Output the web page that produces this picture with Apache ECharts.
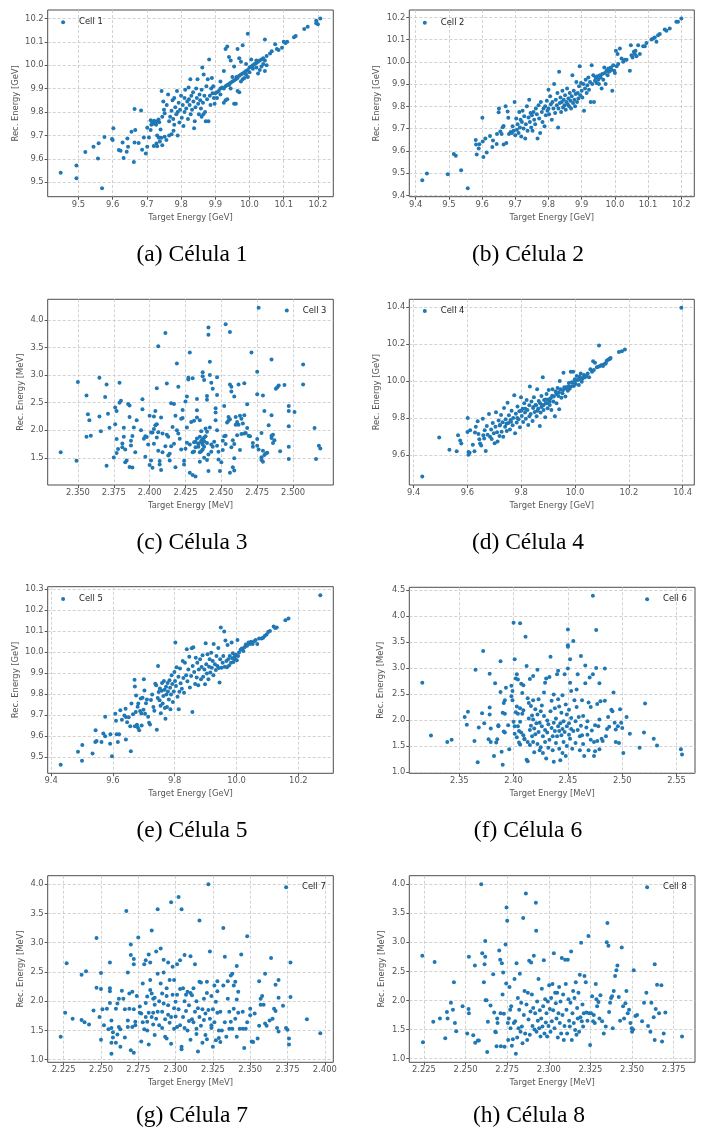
<!DOCTYPE html>
<html>
<head>
<meta charset="utf-8">
<title>Cell energy scatter</title>
<script src="https://cdn.jsdelivr.net/npm/echarts@6.0.0/dist/echarts.min.js"></script>
<style>
  html, body { margin: 0; padding: 0; background: #fff; }
  #main { width: 710px; height: 1133px; }
</style>
</head>
<body>
<div id="main"></div>
<script>
// [target, reconstructed] per cell
var cell1 = [[9.448,9.540],[9.494,9.571],[9.494,9.517],[9.569,9.474],[9.52,9.629],[9.544,9.651],[9.559,9.666],[9.557,9.601],[9.576,9.693],[9.598,9.684],[9.6,9.68],[9.602,9.73],
  [9.618,9.637],[9.623,9.634],[9.629,9.67],[9.632,9.603],[9.643,9.687],[9.641,9.63],[9.645,9.651],[9.655,9.716],[9.664,9.67],[9.662,9.586],[9.666,9.723],[9.664,9.813],[9.676,9.667],[9.683,9.806],[9.686,9.639],[9.691,9.691],[9.697,9.623],[9.701,9.733],[9.701,9.651],[9.706,9.691],[9.711,9.723],
  [9.711,9.765],[9.715,9.757],[9.718,9.75],[9.721,9.763],[9.724,9.752],[9.727,9.745],[9.73,9.76],[9.713,9.745],[9.734,9.768],[9.736,9.756],
  [9.74,9.725],[9.745,9.78],[9.742,9.69],[9.735,9.69],[9.73,9.70],[9.728,9.665],[9.72,9.655],[9.73,9.653],[9.745,9.658],[9.738,9.674],[9.752,9.694],[9.757,9.68],[9.765,9.7],[9.772,9.705],[9.778,9.72],[9.79,9.70],
  [9.743,9.89],[9.748,9.845],[9.75,9.81],[9.752,9.795],[9.758,9.83],[9.762,9.875],[9.765,9.76],[9.768,9.78],[9.772,9.805],[9.775,9.85],[9.777,9.77],[9.78,9.745],[9.78,9.86],[9.783,9.82],[9.786,9.79],[9.788,9.89],[9.79,9.8],[9.793,9.84],[9.795,9.755],[9.797,9.81],[9.8,9.87],[9.802,9.775],[9.805,9.83],[9.807,9.74],[9.81,9.86],[9.81,9.8],[9.812,9.895],[9.815,9.815],[9.818,9.845],[9.82,9.77],[9.822,9.905],[9.823,9.855],[9.825,9.83],[9.827,9.94],[9.828,9.79],[9.83,9.87],[9.832,9.81],[9.835,9.885],[9.836,9.845],[9.838,9.73],[9.84,9.76],[9.842,9.82],[9.844,9.9],[9.846,9.86],[9.848,9.94],[9.85,9.835],[9.852,9.79],[9.854,9.875],[9.856,9.85],[9.858,9.815],[9.86,9.895],[9.862,9.99],[9.864,9.84],[9.866,9.96],[9.868,9.87],[9.87,9.8],[9.872,9.76],[9.874,9.91],[9.876,9.855],[9.878,9.94],[9.88,9.76],[9.882,10.025],[9.884,9.87],[9.886,9.83],[9.888,9.9],[9.89,9.945],[9.892,9.88],[9.894,9.91],[9.896,9.86],[9.898,9.835],[9.86,9.78],[9.865,9.79],
  [9.9,9.88],[9.905,9.885],[9.91,9.89],[9.915,9.9],[9.92,9.905],[9.925,9.9],[9.93,9.91],[9.935,9.915],[9.94,9.92],[9.945,9.925],[9.95,9.93],[9.955,9.935],[9.96,9.94],[9.962,9.95],[9.965,9.945],[9.97,9.955],[9.975,9.96],[9.98,9.965],[9.985,9.97],[9.99,9.975],[9.995,9.98],[10.0,9.99],[10.005,9.995],[10.01,10.0],[10.015,10.005],[10.02,10.01],[10.025,10.015],[10.03,10.02],[10.035,10.025],[10.04,10.03],[10.045,10.02],[10.05,10.04],
  [9.905,9.86],[9.915,9.875],[9.925,9.84],[9.93,9.85],[9.935,9.855],[9.94,9.915],[9.945,9.9],[9.95,9.95],[9.955,9.835],[9.96,9.835],[9.965,9.89],[9.97,9.885],[9.975,9.93],[9.98,9.94],[9.985,9.945],[9.99,9.96],[9.995,9.95],[10.0,9.97],[10.01,9.985],[10.02,9.99],[10.025,9.965],[10.035,9.995],[10.04,10.005],[10.045,9.975],[10.05,10.0],[10.03,9.98],
  [9.915,9.93],[9.925,9.975],[9.93,10.07],[9.935,10.08],[9.94,10.035],[9.945,10.02],[9.955,9.995],[9.965,10.07],[9.97,10.03],[9.975,10.015],[9.98,10.085],[9.995,10.135],[10.045,10.11],[9.99,10.005],[10.005,10.025],[10.02,10.02],
  [10.06,10.05],[10.065,10.06],[10.075,10.09],[10.08,10.07],[10.085,10.065],[10.095,10.075],[10.1,10.1],[10.105,10.095],[10.11,10.1],[10.13,10.12],[10.135,10.125],[10.16,10.155],[10.17,10.165],[10.195,10.19],[10.195,10.18],[10.2,10.175],[10.207,10.2]];

var cell2 = [[9.42,9.468],[9.434,9.498],[9.497,9.495],[9.537,9.513],[9.557,9.432],[9.515,9.586],[9.521,9.578],[9.581,9.649],[9.582,9.628],[9.584,9.584],[9.59,9.611],[9.592,9.63],[9.601,9.749],[9.602,9.642],[9.604,9.572],[9.61,9.655],[9.614,9.592],[9.624,9.667],[9.631,9.617],[9.633,9.646],[9.644,9.631],[9.645,9.676],[9.65,9.773],[9.651,9.79],[9.655,9.687],[9.659,9.676],[9.662,9.706],[9.665,9.712],[9.665,9.629],[9.671,9.8],[9.673,9.635],[9.677,9.777],[9.679,9.749],[9.681,9.676],[9.686,9.685],
  [9.69,9.68],[9.692,9.71],[9.695,9.69],[9.698,9.82],[9.7,9.67],[9.703,9.745],[9.705,9.695],[9.707,9.72],[9.71,9.68],[9.712,9.775],[9.714,9.705],[9.716,9.74],[9.718,9.665],[9.72,9.73],[9.722,9.78],[9.725,9.7],[9.727,9.755],[9.73,9.655],[9.732,9.72],[9.735,9.8],[9.737,9.69],[9.74,9.75],[9.742,9.83],[9.744,9.73],[9.746,9.77],[9.748,9.705],[9.75,9.76],[9.752,9.69],[9.755,9.775],[9.757,9.74],[9.76,9.72],[9.762,9.79],[9.765,9.765],[9.767,9.655],[9.77,9.805],[9.772,9.745],[9.775,9.68],[9.777,9.82],[9.78,9.775],[9.782,9.73],[9.785,9.79],[9.788,9.71],[9.79,9.8],[9.792,9.76],[9.795,9.825],[9.797,9.78],
  [9.8,9.875],[9.8,9.79],[9.802,9.765],[9.805,9.845],[9.807,9.81],[9.81,9.74],[9.812,9.82],[9.815,9.79],[9.817,9.9],[9.82,9.77],[9.822,9.83],[9.825,9.805],[9.827,9.86],[9.829,9.705],[9.83,9.79],[9.832,9.955],[9.834,9.815],[9.836,9.84],[9.838,9.775],[9.84,9.82],[9.842,9.87],[9.844,9.795],[9.846,9.83],[9.848,9.805],[9.85,9.85],[9.852,9.785],[9.854,9.82],[9.856,9.88],[9.858,9.81],[9.86,9.835],[9.862,9.8],[9.864,9.86],[9.866,9.825],[9.868,9.79],[9.87,9.845],[9.872,9.94],[9.874,9.815],[9.876,9.87],[9.878,9.83],[9.88,9.8],[9.882,9.855],[9.884,9.91],[9.886,9.82],[9.888,9.86],[9.89,9.835],[9.892,9.89],[9.894,9.98],[9.896,9.85],[9.898,9.905],
  [9.9,9.87],[9.902,9.84],[9.905,9.9],[9.907,9.78],[9.91,9.88],[9.912,9.92],[9.915,9.86],[9.917,9.895],[9.92,9.93],[9.922,9.875],[9.925,9.91],[9.927,9.82],[9.93,9.985],[9.932,9.9],[9.935,9.94],[9.937,9.82],[9.94,9.915],[9.942,9.93],[9.945,9.905],[9.947,9.935],[9.95,9.92],[9.952,9.9],[9.955,9.94],[9.957,9.93],[9.96,9.88],[9.962,9.945],[9.965,9.92],[9.968,9.975],[9.97,9.95],[9.972,9.9],[9.975,9.96],[9.978,9.94],[9.98,9.97],[9.982,9.955],[9.985,9.96],[9.988,9.975],[9.99,9.965],[9.992,9.87],[9.995,9.985],[9.998,9.96],
  [10.0,9.95],[10.003,10.05],[10.005,9.98],[10.008,10.035],[10.01,9.99],[10.015,10.06],[10.02,10.015],[10.025,10.0],[10.03,10.01],[10.035,10.01],[10.045,9.96],[10.048,10.075],[10.05,10.03],[10.053,10.02],[10.057,10.045],[10.06,10.035],[10.062,10.05],[10.065,10.025],[10.07,10.075],[10.075,10.035],[10.085,10.07],[10.09,10.07],[10.095,10.085],[10.11,10.1],[10.115,10.105],[10.12,10.11],[10.125,10.09],[10.13,10.12],[10.135,10.125],[10.15,10.145],[10.155,10.14],[10.165,10.15],[10.185,10.18],[10.19,10.18],[10.2,10.195]];

var cell3 = [[2.338,1.60],[2.349,1.445],[2.350,2.875],[2.356,2.63],[2.357,2.29],[2.358,2.18],[2.356,1.88],[2.359,1.90],[2.365,2.95],[2.365,2.25],[2.366,1.98],[2.370,2.83],[2.369,2.60],[2.370,1.355],[2.371,2.30],[2.372,2.045],[2.375,1.505],[2.376,2.11],[2.376,2.41],[2.377,2.35],[2.377,1.84],[2.377,1.585],[2.378,1.66],[2.379,2.86],[2.379,2.50],[2.380,2.535],[2.381,1.76],[2.381,1.69],[2.382,2.045],[2.382,1.88],[2.383,1.65],[2.383,1.42],[2.384,1.45],[2.385,2.475],[2.386,2.45],[2.386,2.24],[2.386,1.335],[2.387,1.725],[2.387,1.81],[2.388,1.895],[2.388,1.325],[2.389,2.05],[2.390,1.60],[2.391,2.18],[2.394,2.0],[2.395,2.38],[2.395,2.56],[2.396,1.845],[2.397,1.89],[2.397,1.52],[2.398,1.875],[2.399,1.74],[2.400,2.26],[2.400,1.37],[2.401,1.96],[2.401,1.45],[2.402,1.96],[2.402,1.32],[2.403,2.25],[2.403,1.755],[2.403,2.02],[2.404,2.09],[2.404,2.35],[2.405,2.76],[2.405,1.87],[2.405,2.11],[2.406,1.965],[2.406,1.63],[2.406,3.52],[2.407,1.38],[2.407,1.44],[2.408,1.28],[2.408,2.23],[2.409,1.94],[2.409,1.60],[2.411,1.71],[2.411,3.76],[2.412,1.92],[2.412,2.845],[2.413,1.54],[2.413,1.88],[2.414,1.45],[2.414,1.575],[2.415,2.49],[2.415,1.71],[2.416,2.06],[2.417,1.755],[2.417,2.475],[2.418,2.26],[2.418,1.33],[2.419,2.0],[2.419,3.21],[2.420,1.94],[2.420,2.79],[2.421,1.845],[2.422,2.21],[2.422,1.65],[2.423,2.22],[2.423,2.365],[2.424,1.445],[2.424,1.38],[2.425,1.665],[2.425,2.52],[2.426,1.775],[2.426,2.61],[2.426,2.05],[2.427,2.92],[2.427,2.95],[2.428,3.41],[2.428,1.23],[2.428,1.74],[2.429,2.15],[2.43,1.19],[2.430,2.94],[2.431,1.615],[2.431,1.78],[2.432,1.16],[2.433,2.565],[2.433,2.36],[2.434,1.755],[2.435,1.60],[2.435,2.18],[2.436,1.98],[2.436,1.785],
  [2.437,3.05],[2.437,2.98],[2.438,2.91],[2.441,3.86],[2.441,3.73],[2.44,2.62],[2.44,2.55],[2.442,3.24],[2.442,3.00],[2.443,2.86],[2.444,2.75],[2.447,2.96],[2.447,2.64],[2.453,3.92],[2.456,3.78],[2.456,2.83],[2.457,2.79],[2.457,2.70],[2.459,2.61],[2.462,2.83],[2.466,2.85],[2.468,2.47],[2.471,3.41],[2.475,3.06],[2.475,2.65],[2.476,4.22],[2.479,2.63],[2.48,2.35],[2.485,3.28],[2.488,2.75],[2.489,2.78],[2.490,2.81],[2.494,2.82],[2.497,2.44],[2.497,2.35],[2.501,2.33],[2.507,2.83],[2.507,3.19],[2.515,2.04],[2.516,1.48],[2.518,1.72],[2.519,1.67],[2.497,2.07],[2.497,1.70],[2.497,1.48],[2.491,1.62],[2.487,1.82],[2.486,1.92],[2.485,1.90],[2.485,1.86],[2.486,1.77],[2.485,2.27],[2.483,2.09],[2.482,1.59],[2.481,1.58],[2.480,1.55],[2.479,1.63],[2.478,1.51],[2.478,1.46],[2.479,1.43],[2.478,1.95],[2.476,1.65],[2.475,1.84],[2.475,1.72],[2.472,1.77],[2.472,1.70],[2.470,1.89],[2.469,1.90],[2.468,2.04],[2.467,1.95],[2.466,2.27],[2.466,1.94],[2.465,2.12],[2.464,2.21],[2.464,1.93],[2.463,2.26],[2.463,1.64],[2.462,2.10],[2.461,2.15],[2.461,1.91],[2.460,2.10],[2.460,2.24],[2.459,1.75],[2.459,1.49],[2.458,1.82],[2.459,1.27],[2.458,1.33],[2.456,1.23],[2.457,1.69],[2.456,2.20],[2.455,2.24],[2.455,2.17],[2.454,2.14],[2.453,1.90],[2.453,1.75],[2.452,1.89],[2.452,2.44],[2.451,1.64],[2.451,1.81],[2.450,1.42],[2.449,1.26],[2.448,1.47],[2.448,1.61],[2.447,1.72],[2.447,2.0],[2.446,2.18],[2.446,2.32],[2.446,2.40],[2.445,1.79],[2.444,1.70],[2.443,1.74],[2.443,1.61],[2.442,2.05],[2.441,1.56],[2.441,1.26],[2.440,1.46],[2.440,1.97],[2.439,2.03],[2.438,1.87],[2.438,1.50],[2.437,1.84],[2.437,1.74],[2.436,1.81],[2.436,1.62],[2.435,1.88],[2.435,1.43],[2.434,1.76],[2.434,1.70],[2.433,2.23],[2.433,1.85],[2.432,1.69],[2.432,1.79],[2.431,2.17],[2.430,1.60],[2.437,1.83],[2.438,1.80],[2.44,1.77],[2.439,1.89],[2.438,1.70],[2.437,1.65]];

var cell4 = [[9.432,9.485],[9.495,9.695],[9.533,9.629],[9.56,9.621],[9.565,9.708],[9.573,9.679],[9.577,9.663],[9.601,9.80],[9.6,9.725],[9.604,9.618],[9.604,9.602],[9.608,9.614],[9.61,9.735],[9.62,9.657],[9.626,9.621],[9.628,9.722],[9.631,9.754],[9.638,9.783],[9.641,9.715],[9.644,9.686],[9.647,9.663],[9.651,9.652],[9.657,9.796],[9.659,9.708],[9.662,9.69],[9.664,9.735],[9.668,9.623],[9.672,9.758],[9.675,9.711],[9.68,9.822],[9.684,9.70],[9.688,9.738],[9.69,9.688],[9.694,9.774],[9.698,9.718],[9.701,9.665],[9.704,9.754],[9.706,9.831],[9.71,9.724],[9.712,9.674],[9.716,9.787],[9.719,9.704],[9.721,9.763],[9.725,9.817],[9.727,9.727],[9.731,9.778],[9.733,9.699],[9.736,9.855],[9.74,9.754],[9.742,9.794],[9.746,9.731],[9.749,9.883],[9.752,9.774],[9.754,9.815],[9.758,9.738],[9.762,9.781],[9.764,9.84],[9.768,9.761],[9.77,9.80],[9.774,9.923],[9.777,9.718],[9.78,9.824],[9.783,9.776],[9.786,9.862],[9.79,9.794],[9.793,9.837],[9.795,9.751],[9.799,9.912],[9.802,9.812],[9.805,9.851],[9.807,9.779],[9.811,9.88],[9.814,9.83],[9.817,9.797],[9.82,9.898],[9.823,9.844],[9.826,9.763],[9.83,9.869],[9.832,9.97],[9.835,9.822],[9.838,9.889],[9.842,9.785],[9.844,9.855],[9.847,9.912],[9.85,9.833],[9.853,9.871],[9.857,9.81],[9.859,9.955],[9.863,9.851],[9.865,9.892],[9.869,9.758],[9.872,9.83],[9.875,9.919],[9.878,9.871],[9.88,10.02],[9.883,9.844],[9.885,9.898],[9.889,9.805],[9.891,9.88],[9.894,9.93],[9.898,9.853],[9.9,9.901],[9.902,9.951],[9.906,9.871],[9.909,9.907],[9.912,9.844],[9.916,9.955],[9.919,9.889],[9.921,9.916],[9.925,9.81],[9.928,9.943],[9.931,9.88],[9.935,9.963],[9.938,9.919],[9.941,9.848],[9.943,10.0],[9.946,9.955],[9.949,9.91],[9.953,9.934],[9.957,10.045],[9.96,9.966],[9.964,9.916],[9.968,9.966],[9.973,9.948],[9.977,9.989],[9.98,9.959],[9.984,10.05],[9.988,9.994],[9.993,10.05],[9.995,9.973],[9.999,10.009],[10.002,9.984],[10.006,10.027],[10.01,10.005],[10.014,9.978],[10.017,10.023],[10.021,10.041],[10.025,9.996],[10.028,10.013],[10.033,10.032],[10.037,10.02],[10.042,10.027],[10.047,10.041],[10.052,10.02],[10.057,10.063],[10.063,10.05],[10.067,10.106],[10.07,10.059],[10.074,10.099],[10.081,10.074],[10.086,10.077],[10.089,10.192],[10.093,10.081],[10.099,10.086],[10.104,10.081],[10.109,10.092],[10.114,10.095],[10.117,10.108],[10.121,10.113],[10.126,10.117],[10.13,10.12],[10.132,10.124],[10.163,10.156],[10.174,10.161],[10.185,10.17],[10.395,10.395],
  [9.72,9.76],[9.745,9.77],[9.76,9.79],[9.785,9.8],[9.8,9.84],[9.815,9.85],[9.83,9.81],[9.845,9.86],[9.855,9.87],[9.86,9.84],[9.87,9.88],[9.875,9.86],[9.882,9.87],[9.89,9.9],[9.895,9.88],[9.905,9.89],[9.915,9.92],[9.93,9.93],[9.94,9.94],[9.955,9.95],[9.965,9.96],[9.975,9.97],[9.985,9.97],[9.99,9.99],[10.0,10.0],[10.015,10.01],[10.03,10.02]];

var cell5 = [[9.431,9.464],[9.487,9.526],[9.501,9.558],[9.5,9.483],[9.534,9.518],[9.543,9.573],[9.544,9.629],[9.547,9.577],[9.563,9.573],[9.569,9.613],[9.575,9.693],[9.575,9.6],[9.591,9.564],[9.592,9.61],[9.597,9.505],[9.608,9.707],[9.61,9.674],[9.612,9.61],[9.616,9.572],[9.62,9.61],[9.624,9.724],[9.629,9.678],[9.637,9.699],[9.641,9.731],[9.642,9.691],[9.642,9.585],[9.646,9.666],[9.651,9.69],[9.656,9.648],[9.658,9.529],[9.66,9.756],[9.665,9.705],[9.67,9.869],[9.671,9.836],[9.671,9.648],[9.674,9.715],[9.675,9.794],[9.678,9.655],[9.68,9.74],[9.681,9.64],[9.682,9.756],[9.685,9.629],[9.688,9.72],[9.69,9.78],[9.692,9.708],[9.693,9.651],[9.696,9.783],[9.699,9.726],[9.7,9.871],[9.702,9.818],[9.704,9.707],[9.707,9.757],[9.71,9.775],[9.714,9.693],[9.717,9.664],[9.72,9.656],[9.723,9.772],[9.727,9.799],[9.731,9.739],[9.734,9.721],[9.737,9.85],[9.74,9.842],[9.742,9.631],[9.745,9.782],[9.746,9.934],[9.748,9.811],[9.751,9.771],[9.752,9.827],[9.754,9.745],[9.755,9.709],[9.758,9.816],[9.759,9.853],[9.761,9.756],[9.763,9.791],[9.765,9.863],[9.767,9.821],[9.768,9.734],[9.77,9.683],[9.772,9.835],[9.773,9.798],[9.775,9.739],[9.777,9.853],[9.778,9.813],[9.781,9.775],[9.783,9.866],[9.785,9.831],[9.786,9.728],[9.788,9.799],[9.79,9.89],[9.792,9.848],[9.794,9.763],[9.797,9.813],[9.799,9.906],[9.801,9.863],[9.802,10.046],[9.804,9.839],[9.806,9.928],[9.809,9.788],[9.812,9.883],[9.813,9.728],[9.815,9.812],[9.817,9.922],[9.819,9.852],[9.823,9.826],[9.826,9.958],[9.828,9.877],[9.83,9.807],[9.833,9.95],[9.837,9.89],[9.839,10.014],[9.841,9.861],[9.844,9.918],[9.847,9.978],[9.849,9.832],[9.853,9.887],[9.855,10.019],[9.857,9.715],[9.858,9.934],[9.86,10.023],[9.863,9.906],[9.866,9.848],[9.868,9.973],[9.871,9.879],[9.873,9.95],[9.876,9.842],[9.878,9.918],[9.882,9.966],[9.885,9.871],[9.887,9.929],[9.89,9.985],[9.892,9.883],[9.896,9.918],[9.898,9.847],[9.9,10.042],[9.902,9.942],[9.904,9.899],[9.906,9.99],[9.909,9.871],[9.911,9.931],[9.913,9.966],[9.915,9.903],[9.918,9.997],[9.92,9.926],[9.923,9.958],[9.925,9.89],[9.926,10.039],[9.93,9.942],[9.933,9.915],[9.935,9.982],[9.938,9.934],[9.941,10.02],[9.943,9.924],[9.945,9.856],[9.947,9.966],[9.949,10.117],[9.952,9.926],[9.955,9.95],[9.957,9.982],[9.96,10.098],[9.962,9.931],[9.964,10.056],[9.967,9.958],[9.969,9.928],[9.971,10.034],[9.973,9.966],[9.976,9.937],[9.978,9.982],[9.982,9.95],[9.984,10.046],[9.986,9.971],[9.988,9.995],[9.99,9.953],[9.994,9.979],[9.996,9.966],[9.998,9.988],[10.001,9.961],[10.003,10.058],[10.005,9.982],[10.008,9.998],[10.013,10.011],[10.017,10.017],[10.022,10.006],[10.026,10.023],[10.03,10.036],[10.034,10.03],[10.039,10.046],[10.043,10.039],[10.047,10.049],[10.052,10.039],[10.057,10.052],[10.062,10.058],[10.067,10.039],[10.073,10.065],[10.081,10.065],[10.086,10.069],[10.091,10.077],[10.097,10.084],[10.102,10.096],[10.108,10.101],[10.12,10.122],[10.125,10.115],[10.13,10.117],[10.158,10.152],[10.168,10.16],[10.271,10.271]];

var cell6 = [[2.316,2.72],[2.324,1.705],[2.339,1.58],[2.343,1.62],[2.355,2.06],[2.357,1.91],[2.358,2.16],[2.364,1.60],[2.365,2.97],[2.367,1.19],[2.368,1.86],[2.372,3.33],[2.371,2.13],[2.373,1.94],[2.377,1.63],[2.378,2.89],[2.378,2.11],[2.378,2.24],[2.379,1.84],[2.379,1.58],[2.382,1.31],[2.383,2.71],[2.384,1.57],[2.385,1.63],[2.386,1.88],[2.386,1.90],[2.388,2.54],[2.388,3.13],[2.389,1.39],[2.39,1.14],[2.39,2.14],[2.391,2.33],[2.391,1.78],[2.392,1.76],[2.392,2.12],[2.392,2.38],[2.393,2.62],[2.395,1.90],[2.396,1.44],[2.398,2.66],[2.399,2.56],[2.398,2.46],[2.399,2.38],[2.4,3.87],[2.401,3.17],[2.4,1.97],[2.401,1.88],[2.401,1.74],[2.402,2.15],[2.402,2.80],[2.403,1.67],[2.403,2.26],[2.403,2.88],[2.404,2.12],[2.404,1.88],[2.404,2.78],[2.405,1.79],[2.405,1.57],[2.406,2.23],[2.406,3.86],[2.406,1.53],[2.406,1.97],[2.407,2.70],[2.407,1.76],[2.408,2.52],[2.408,2.12],[2.409,1.71],[2.409,2.67],[2.409,2.19],[2.41,1.64],[2.41,1.63],[2.411,3.60],[2.412,3.04],[2.412,1.24],[2.413,1.21],[2.413,2.42],[2.413,1.58],[2.414,2.03],[2.414,2.33],[2.415,1.81],[2.415,2.79],[2.415,1.52],[2.416,2.27],[2.416,1.89],[2.417,2.09],[2.417,1.69],[2.418,2.85],[2.418,1.58],[2.418,2.01],[2.418,2.38],[2.419,1.84],[2.419,1.38],[2.42,2.21],[2.42,1.73],[2.421,1.94],[2.422,2.97],[2.422,1.54],[2.422,2.11],[2.423,2.40],[2.423,1.77],[2.424,1.42],[2.424,1.95],[2.425,2.17],[2.425,1.48],[2.426,1.88],[2.426,2.28],[2.427,1.69],[2.427,1.37],[2.428,2.08],[2.428,2.53],[2.429,1.81],[2.429,1.58],[2.429,2.72],[2.43,1.26],[2.43,2.80],[2.431,1.99],[2.431,1.76],[2.432,1.47],[2.432,1.92],[2.433,2.83],[2.433,1.62],[2.434,3.22],[2.434,2.17],[2.435,1.85],[2.435,2.37],[2.436,1.42],[2.436,1.69],[2.437,2.49],[2.437,1.95],[2.437,1.20],[2.438,1.79],[2.438,2.23],[2.439,1.56],[2.439,2.03],[2.44,1.69],[2.44,2.88],[2.441,2.40],[2.441,1.88],[2.441,2.95],[2.442,1.45],[2.442,1.79],[2.442,2.26],[2.443,1.23],[2.443,1.94],[2.444,1.71],[2.444,2.14],[2.445,1.37],[2.445,1.83],[2.445,2.48],[2.446,1.58],[2.446,1.98],[2.447,2.88],[2.447,1.77],[2.448,2.30],[2.448,1.31],[2.449,1.88],[2.449,2.11],[2.449,1.50],[2.45,3.74],[2.45,2.99],[2.45,3.44],[2.45,3.41],[2.451,1.72],[2.451,1.94],[2.451,2.20],[2.452,3.17],[2.452,2.72],[2.452,1.64],[2.453,1.83],[2.453,2.56],[2.453,2.04],[2.454,1.45],[2.455,1.79],[2.455,3.52],[2.456,2.38],[2.457,1.98],[2.457,1.56],[2.458,2.25],[2.458,2.59],[2.459,2.88],[2.459,1.81],[2.46,2.06],[2.461,1.69],[2.461,1.42],[2.462,3.23],[2.462,1.89],[2.463,2.38],[2.463,1.71],[2.464,2.08],[2.464,1.54],[2.465,1.31],[2.466,3.05],[2.466,2.71],[2.467,1.86],[2.468,1.72],[2.468,1.98],[2.469,1.42],[2.469,2.34],[2.47,2.82],[2.471,2.25],[2.471,1.62],[2.472,1.80],[2.473,2.88],[2.473,4.39],[2.474,1.58],[2.474,1.31],[2.475,1.90],[2.475,1.40],[2.476,3.00],[2.476,3.73],[2.477,1.60],[2.477,2.31],[2.478,1.88],[2.479,1.44],[2.479,2.71],[2.479,2.01],[2.48,2.36],[2.481,1.64],[2.482,1.60],[2.484,2.99],[2.484,2.37],[2.485,1.69],[2.486,1.83],[2.487,2.06],[2.488,1.87],[2.49,2.20],[2.491,2.17],[2.492,2.53],[2.493,1.95],[2.494,1.82],[2.494,1.58],[2.496,1.88],[2.497,1.56],[2.498,2.21],[2.499,1.95],[2.50,1.85],[2.501,1.37],[2.504,2.06],[2.507,1.74],[2.516,1.47],[2.52,1.76],[2.521,2.32],[2.529,1.64],[2.532,1.51],[2.554,1.44],[2.555,1.34]];

var cell7 = [[2.223,1.39],[2.226,1.80],[2.227,2.65],[2.231,1.70],[2.237,2.45],[2.237,1.68],[2.239,1.64],[2.24,2.51],[2.242,1.60],[2.245,1.84],[2.247,2.23],[2.247,3.08],[2.249,1.73],[2.25,2.48],[2.25,1.34],[2.25,2.21],[2.251,1.86],[2.252,1.59],[2.254,1.87],[2.255,1.52],[2.256,2.17],[2.256,2.66],[2.256,1.97],[2.256,2.22],[2.257,1.29],[2.257,1.10],[2.257,1.67],[2.257,1.54],[2.258,1.38],[2.258,1.47],[2.26,1.87],[2.26,1.29],[2.261,1.96],[2.261,1.43],[2.262,2.04],[2.262,1.56],[2.263,1.52],[2.263,1.22],[2.264,2.18],[2.265,2.04],[2.266,1.86],[2.266,1.38],[2.267,3.54],[2.268,2.49],[2.268,1.67],[2.268,1.56],[2.269,1.87],[2.269,2.13],[2.27,2.79],[2.27,2.97],[2.27,1.16],[2.271,2.16],[2.271,1.56],[2.272,2.63],[2.272,2.72],[2.272,1.12],[2.272,1.86],[2.273,1.59],[2.273,1.65],[2.274,2.09],[2.275,3.09],[2.276,1.91],[2.276,1.80],[2.277,1.31],[2.277,1.79],[2.278,2.30],[2.278,1.64],[2.279,1.52],[2.279,2.63],[2.28,1.73],[2.28,1.97],[2.28,2.70],[2.281,1.65],[2.281,2.08],[2.281,1.50],[2.282,1.26],[2.282,2.80],[2.282,1.80],[2.283,2.19],[2.283,2.66],[2.283,2.36],[2.284,1.73],[2.284,2.13],[2.284,3.21],[2.285,1.60],[2.285,2.04],[2.285,1.80],[2.286,1.94],[2.286,1.42],[2.286,2.06],[2.287,1.70],[2.287,2.85],[2.288,2.47],[2.288,3.57],[2.288,1.82],[2.289,2.0],[2.289,1.59],[2.29,2.90],[2.29,2.30],[2.291,1.82],[2.291,1.54],[2.291,2.13],[2.292,2.71],[2.292,1.96],[2.292,2.49],[2.293,1.39],[2.293,1.69],[2.294,2.09],[2.294,2.22],[2.294,1.36],[2.295,1.77],[2.295,2.66],[2.295,1.93],[2.296,1.63],[2.296,2.36],[2.297,1.27],[2.297,3.69],[2.297,1.73],[2.298,2.11],[2.298,2.59],[2.299,1.88],[2.299,1.53],[2.299,2.36],[2.30,1.99],[2.30,1.74],[2.301,2.11],[2.301,1.56],[2.301,2.63],[2.302,3.78],[2.302,1.86],[2.303,2.21],[2.303,1.59],[2.303,2.70],[2.304,3.57],[2.304,1.22],[2.304,1.18],[2.305,2.22],[2.305,1.73],[2.306,2.79],[2.306,1.54],[2.306,2.0],[2.307,1.83],[2.307,2.11],[2.308,1.50],[2.308,2.16],[2.309,1.93],[2.309,1.66],[2.31,2.77],[2.31,2.14],[2.31,1.34],[2.311,1.69],[2.311,2.10],[2.312,2.22],[2.312,1.64],[2.313,2.63],[2.313,1.82],[2.314,1.53],[2.314,2.0],[2.314,1.44],[2.315,1.14],[2.315,1.88],[2.316,2.33],[2.316,3.38],[2.316,1.73],[2.317,1.58],[2.317,2.32],[2.318,1.29],[2.318,1.86],[2.319,1.68],[2.319,2.04],[2.32,1.42],[2.32,1.79],[2.321,2.14],[2.321,2.33],[2.321,1.35],[2.322,1.85],[2.322,4.0],[2.323,1.70],[2.323,2.85],[2.324,2.09],[2.324,1.54],[2.324,1.59],[2.325,1.22],[2.325,1.86],[2.326,2.27],[2.326,1.64],[2.327,1.99],[2.327,1.33],[2.328,2.34],[2.328,2.17],[2.328,1.80],[2.329,1.37],[2.329,1.50],[2.33,1.82],[2.33,1.30],[2.331,1.50],[2.332,3.25],[2.332,2.27],[2.333,1.64],[2.333,2.76],[2.334,1.39],[2.335,2.04],[2.335,2.34],[2.336,1.53],[2.336,1.82],[2.337,2.44],[2.337,1.65],[2.338,2.47],[2.338,1.53],[2.339,2.27],[2.339,1.87],[2.340,1.70],[2.34,2.33],[2.341,2.60],[2.341,1.39],[2.341,2.03],[2.342,2.16],[2.342,1.80],[2.343,1.53],[2.344,2.80],[2.345,1.53],[2.345,1.82],[2.346,1.20],[2.347,1.53],[2.348,3.11],[2.348,1.64],[2.35,1.87],[2.35,1.76],[2.351,1.31],[2.352,1.30],[2.353,1.79],[2.355,1.36],[2.356,2.34],[2.356,1.58],[2.357,2.04],[2.357,1.94],[2.358,2.09],[2.359,1.94],[2.36,1.62],[2.36,2.47],[2.361,1.58],[2.363,1.67],[2.364,2.74],[2.365,1.70],[2.366,1.87],[2.367,2.28],[2.367,1.83],[2.368,1.54],[2.369,2.36],[2.369,1.48],[2.369,2.06],[2.372,1.92],[2.374,1.54],[2.375,1.51],[2.376,1.36],[2.376,1.26],[2.377,2.66],[2.377,2.07],[2.388,1.69],[2.397,1.45]];

var cell8 = [[2.224,2.77],[2.2244,1.28],[2.2306,1.63],[2.2314,2.66],[2.2346,1.69],[2.2378,1.35],[2.2388,1.80],[2.2392,1.69],[2.2412,1.96],[2.2424,1.84],[2.243,2.31],[2.2436,1.61],[2.2444,1.47],[2.2482,1.90],[2.251,1.43],[2.2518,1.85],[2.252,1.78],[2.252,2.75],[2.2546,1.40],[2.2556,2.60],[2.2558,1.27],[2.2574,1.31],[2.258,1.31],[2.2594,4.0],[2.26,2.81],[2.2614,2.62],[2.2618,2.75],[2.261,2.31],[2.2618,3.02],[2.262,2.0],[2.2626,2.0],[2.263,1.11],[2.2634,1.63],[2.265,1.91],[2.2666,2.45],[2.2672,1.79],[2.2678,1.46],[2.2682,1.45],[2.2686,1.21],[2.269,1.69],[2.2692,1.61],[2.2702,2.86],[2.2708,2.70],[2.271,1.78],[2.2712,1.21],[2.2718,2.64],[2.2722,2.10],[2.2726,2.48],[2.273,1.77],[2.2734,1.20],[2.274,2.96],[2.2744,2.29],[2.2746,3.60],[2.275,3.37],[2.2754,1.61],[2.2756,1.32],[2.276,1.69],[2.2764,2.23],[2.2768,1.84],[2.277,1.52],[2.2774,1.90],[2.2778,1.22],[2.2784,1.33],[2.279,1.61],[2.2794,2.37],[2.2798,1.64],[2.2802,1.08],[2.2806,2.64],[2.281,1.36],[2.2814,2.04],[2.2818,1.52],[2.2822,1.84],[2.2826,2.46],[2.283,1.46],[2.2834,1.96],[2.2838,1.55],[2.2842,1.26],[2.2846,3.42],[2.285,1.75],[2.2854,2.16],[2.2858,1.43],[2.2862,3.84],[2.2866,1.93],[2.287,1.32],[2.2874,2.13],[2.2878,1.67],[2.2882,2.68],[2.2886,1.41],[2.289,1.81],[2.2894,2.65],[2.2898,2.10],[2.2902,1.56],[2.2906,1.87],[2.291,2.77],[2.2914,1.50],[2.2918,1.78],[2.2922,3.68],[2.2924,3.20],[2.2926,1.46],[2.293,1.98],[2.2934,1.65],[2.2938,2.37],[2.2942,1.52],[2.2946,1.83],[2.295,1.38],[2.2954,1.69],[2.2958,2.20],[2.2962,1.55],[2.2966,1.90],[2.297,2.69],[2.2974,1.43],[2.2978,2.02],[2.2982,1.62],[2.2986,1.78],[2.299,1.38],[2.2994,1.98],[2.2998,1.56],[2.3002,2.26],[2.3006,1.85],[2.301,1.46],[2.3014,2.04],[2.3018,1.64],[2.3022,2.28],[2.3026,1.83],[2.303,2.81],[2.3034,1.52],[2.3038,2.13],[2.3042,1.95],[2.3046,1.69],[2.305,2.13],[2.3054,1.36],[2.3058,1.78],[2.3062,2.23],[2.3066,1.61],[2.307,1.98],[2.3074,1.43],[2.3078,2.73],[2.3082,1.75],[2.3086,2.10],[2.309,1.32],[2.3094,1.56],[2.3098,2.70],[2.3102,2.28],[2.3106,1.84],[2.311,1.43],[2.3114,2.70],[2.3118,2.02],[2.3122,1.65],[2.3126,1.55],[2.313,1.96],[2.3134,2.84],[2.3138,1.32],[2.3142,1.78],[2.3146,2.16],[2.315,1.61],[2.3154,2.04],[2.3158,1.49],[2.3162,2.31],[2.3166,1.41],[2.317,1.87],[2.3174,1.69],[2.3178,2.13],[2.3182,1.46],[2.3186,2.44],[2.319,1.71],[2.3194,2.99],[2.3198,1.64],[2.3202,1.93],[2.3206,1.55],[2.321,1.78],[2.3214,2.42],[2.3222,2.31],[2.3226,1.79],[2.3232,1.65],[2.3238,3.11],[2.3242,1.78],[2.3248,1.23],[2.3254,1.78],[2.326,2.07],[2.3266,1.64],[2.327,1.75],[2.3276,1.61],[2.3282,2.28],[2.3286,2.02],[2.329,1.90],[2.3298,1.97],[2.3304,1.69],[2.331,2.09],[2.332,1.64],[2.333,1.43],[2.3342,1.55],[2.3348,3.0],[2.3352,3.33],[2.3358,2.94],[2.3362,1.80],[2.3368,1.96],[2.3374,2.04],[2.338,2.07],[2.3384,1.52],[2.339,2.16],[2.3398,2.42],[2.3406,2.52],[2.3412,2.60],[2.342,2.06],[2.3428,1.65],[2.3438,2.91],[2.3446,1.90],[2.3452,1.69],[2.346,1.95],[2.3466,2.16],[2.3474,1.78],[2.3482,1.84],[2.349,1.61],[2.3498,1.52],[2.35,1.46],[2.3506,1.50],[2.351,2.52],[2.352,1.73],[2.353,1.75],[2.356,1.64],[2.3572,1.96],[2.3586,2.13],[2.3596,1.56],[2.361,1.46],[2.3616,1.96],[2.363,1.71],[2.3636,1.32],[2.3636,2.62],[2.3642,1.85],[2.365,2.27],[2.3662,1.78],[2.3676,2.26],[2.368,1.29],[2.369,1.43],[2.37,1.79],[2.38,1.38]];

var cells = [cell1, cell2, cell3, cell4, cell5, cell6, cell7, cell8];
var seriesNames = ['Cell 1', 'Cell 2', 'Cell 3', 'Cell 4', 'Cell 5', 'Cell 6', 'Cell 7', 'Cell 8'];
var captions = ['(a) Célula 1', '(b) Célula 2', '(c) Célula 3', '(d) Célula 4', '(e) Célula 5', '(f) Célula 6', '(g) Célula 7', '(h) Célula 8'];
var units = ['GeV', 'GeV', 'MeV', 'GeV', 'GeV', 'MeV', 'MeV', 'MeV'];
var xTicks = [
  [9.5, 9.6, 9.7, 9.8, 9.9, 10.0, 10.1, 10.2],
  [9.4, 9.5, 9.6, 9.7, 9.8, 9.9, 10.0, 10.1, 10.2],
  [2.35, 2.375, 2.4, 2.425, 2.45, 2.475, 2.5],
  [9.4, 9.6, 9.8, 10.0, 10.2, 10.4],
  [9.4, 9.6, 9.8, 10.0, 10.2],
  [2.35, 2.4, 2.45, 2.5, 2.55],
  [2.225, 2.25, 2.275, 2.3, 2.325, 2.35, 2.375, 2.4],
  [2.225, 2.25, 2.275, 2.3, 2.325, 2.35, 2.375]
];
var yTicks = [
  [9.5, 9.6, 9.7, 9.8, 9.9, 10.0, 10.1, 10.2],
  [9.4, 9.5, 9.6, 9.7, 9.8, 9.9, 10.0, 10.1, 10.2],
  [1.5, 2.0, 2.5, 3.0, 3.5, 4.0],
  [9.6, 9.8, 10.0, 10.2, 10.4],
  [9.5, 9.6, 9.7, 9.8, 9.9, 10.0, 10.1, 10.2, 10.3],
  [1.0, 1.5, 2.0, 2.5, 3.0, 3.5, 4.0, 4.5],
  [1.0, 1.5, 2.0, 2.5, 3.0, 3.5, 4.0],
  [1.0, 1.5, 2.0, 2.5, 3.0, 3.5, 4.0]
];
var xDecimals = [1, 1, 3, 1, 1, 2, 3, 3];

// layout (pixels): plot frames, legend marker spots, caption centres
var frames = [
  [47.7, 10, 285.6, 186.7], [409.3, 10, 285, 186.7],
  [47.7, 299.3, 285.6, 185.7], [409.3, 299.3, 285, 185.7],
  [47.7, 586.7, 285.6, 186.6], [409.3, 587.3, 285.7, 186],
  [47.7, 875.7, 285.6, 186.6], [409.3, 875.7, 285.7, 186.6]
];
var yNameGap = [28, 28, 22.5, 28, 28, 24, 22.5, 23];
var legendSpots = [[63.3, 22.3], [425, 22.7], [287, 310.5], [425, 311], [63.3, 599], [647.3, 599.3], [286.3, 887.3], [647.3, 887.3]];
var captionSpots = [[192, 255], [528, 255], [192, 543], [528, 543], [192, 831], [528, 831], [192, 1116], [529, 1116]];

function padded(vals) {
  var lo = Math.min.apply(null, vals), hi = Math.max.apply(null, vals);
  var pad = (hi - lo) * 0.05;
  return [lo - pad, hi + pad];
}

var tickColor = '#555';
var textFont = 'DejaVu Sans';
var grids = [], xAxes = [], yAxes = [], series = [], legends = [], graphics = [];

cells.forEach(function (pts, i) {
  var xr = padded(pts.map(function (p) { return p[0]; }));
  var yr = padded(pts.map(function (p) { return p[1]; }));
  var xt = xTicks[i].filter(function (v) { return v >= xr[0] && v <= xr[1]; });
  var yt = yTicks[i].filter(function (v) { return v >= yr[0] && v <= yr[1]; });
  var f = frames[i];

  grids.push({
    left: f[0], top: f[1], width: f[2], height: f[3],
    show: true, borderColor: '#4d4d4d', borderWidth: 1, backgroundColor: '#fff',
    containLabel: false, outerBoundsMode: 'none'
  });

  var splitStyle = { show: true, lineStyle: { color: '#c6c6c6', width: 0.8, type: [3, 2] } };

  xAxes.push({
    gridIndex: i, type: 'value', min: xr[0], max: xr[1],
    name: 'Target Energy [' + units[i] + ']', nameLocation: 'middle', nameGap: 17,
    nameTextStyle: { fontSize: 8.4, color: tickColor, fontFamily: textFont },
    axisLine: { show: false },
    axisTick: { show: true, length: 3, lineStyle: { color: tickColor }, customValues: xt },
    axisLabel: {
      customValues: xt, fontSize: 8.4, color: tickColor, fontFamily: textFont, margin: 4,
      formatter: (function (d) { return function (v) { return Number(v).toFixed(d); }; })(xDecimals[i])
    },
    splitLine: splitStyle
  });

  yAxes.push({
    gridIndex: i, type: 'value', min: yr[0], max: yr[1],
    name: 'Rec. Energy [' + units[i] + ']', nameLocation: 'middle', nameGap: yNameGap[i], nameRotate: 90,
    nameTextStyle: { fontSize: 8.4, color: tickColor, fontFamily: textFont },
    axisLine: { show: false },
    axisTick: { show: true, length: 3, lineStyle: { color: tickColor }, customValues: yt },
    axisLabel: {
      customValues: yt, fontSize: 8.4, color: tickColor, fontFamily: textFont, margin: 4,
      formatter: function (v) { return Number(v).toFixed(1); }
    },
    splitLine: splitStyle
  });

  series.push({
    type: 'scatter', name: seriesNames[i], xAxisIndex: i, yAxisIndex: i,
    data: pts, symbolSize: 4,
    itemStyle: { color: '#1f77b4', opacity: 1 },
    emphasis: { disabled: true }, silent: true
  });

  // legend icon sits at the left of its box, text follows ~16px after the marker centre
  legends.push({
    data: [seriesNames[i]], selectedMode: false,
    left: legendSpots[i][0] - 2.2, top: legendSpots[i][1] - 5,
    icon: 'circle', itemWidth: 22, itemHeight: 4, padding: 0, itemGap: 0,
    textStyle: { fontSize: 8.4, color: '#222', fontFamily: textFont, lineHeight: 10 }
  });

  graphics.push({
    type: 'text', x: captionSpots[i][0], y: captionSpots[i][1],
    style: {
      text: captions[i], fill: '#000',
      font: '23.5px "Liberation Serif", "Times New Roman", serif',
      textAlign: 'center', textVerticalAlign: 'middle'
    }
  });
});

var chart = echarts.init(document.getElementById('main'));
chart.setOption({
  animation: false,
  backgroundColor: '#fff',
  grid: grids,
  xAxis: xAxes,
  yAxis: yAxes,
  legend: legends,
  series: series,
  graphic: graphics
});
</script>
</body>
</html>
